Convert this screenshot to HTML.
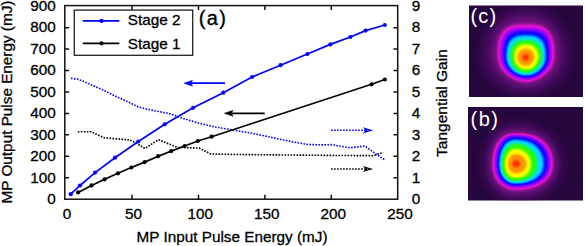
<!DOCTYPE html><html><head><meta charset="utf-8"><style>
html,body{margin:0;padding:0;background:#fff;width:585px;height:246px;overflow:hidden}
svg{display:block}
text{font-family:"Liberation Sans", sans-serif;fill:#000;stroke:#000;stroke-width:0.3px}
</style></head><body>
<svg width="585" height="246" viewBox="0 0 585 246">


<defs><filter id="cm" x="0" y="0" width="1" height="1" filterUnits="objectBoundingBox" color-interpolation-filters="sRGB"><feComponentTransfer><feFuncR type="table" tableValues="0.149 0.155 0.161 0.167 0.174 0.180 0.186 0.192 0.198 0.204 0.211 0.217 0.223 0.229 0.235 0.241 0.247 0.254 0.260 0.266 0.272 0.278 0.284 0.291 0.297 0.303 0.309 0.317 0.324 0.331 0.338 0.346 0.353 0.360 0.367 0.375 0.382 0.389 0.396 0.403 0.411 0.418 0.425 0.432 0.440 0.447 0.454 0.461 0.469 0.476 0.483 0.490 0.507 0.523 0.540 0.556 0.572 0.589 0.605 0.622 0.638 0.655 0.671 0.688 0.704 0.721 0.737 0.753 0.770 0.786 0.803 0.819 0.836 0.852 0.869 0.885 0.902 0.903 0.891 0.878 0.866 0.853 0.840 0.828 0.815 0.803 0.790 0.777 0.765 0.752 0.740 0.727 0.714 0.702 0.689 0.677 0.664 0.651 0.639 0.626 0.613 0.601 0.588 0.565 0.542 0.519 0.496 0.473 0.450 0.427 0.404 0.381 0.358 0.334 0.311 0.288 0.265 0.242 0.219 0.196 0.173 0.150 0.127 0.104 0.081 0.058 0.035 0.012 0.000 0.000 0.000 0.000 0.000 0.000 0.000 0.000 0.000 0.000 0.000 0.000 0.000 0.000 0.000 0.000 0.000 0.000 0.000 0.000 0.000 0.000 0.000 0.000 0.000 0.000 0.006 0.012 0.018 0.025 0.031 0.037 0.043 0.049 0.055 0.062 0.068 0.074 0.080 0.086 0.092 0.098 0.105 0.111 0.117 0.123 0.129 0.135 0.141 0.148 0.154 0.173 0.206 0.240 0.273 0.306 0.339 0.372 0.405 0.438 0.471 0.504 0.537 0.570 0.603 0.636 0.669 0.702 0.735 0.769 0.802 0.835 0.868 0.901 0.934 0.967 1.000 1.000 1.000 1.000 1.000 1.000 1.000 1.000 1.000 1.000 1.000 1.000 1.000 1.000 1.000 1.000 1.000 1.000 1.000 1.000 1.000 1.000 1.000 1.000 1.000 1.000 1.000 1.000 1.000 1.000 1.000 1.000 1.000 1.000 1.000 1.000 1.000 1.000 1.000 1.000 1.000 1.000 1.000 1.000 1.000 1.000 1.000 1.000 1.000 1.000 1.000 1.000"/><feFuncG type="table" tableValues="0.024 0.025 0.026 0.027 0.028 0.029 0.030 0.031 0.032 0.033 0.034 0.035 0.036 0.038 0.039 0.040 0.041 0.042 0.043 0.044 0.045 0.046 0.047 0.048 0.049 0.050 0.051 0.052 0.053 0.054 0.054 0.055 0.056 0.057 0.058 0.058 0.059 0.060 0.061 0.061 0.062 0.063 0.064 0.064 0.065 0.066 0.067 0.068 0.068 0.069 0.070 0.071 0.071 0.071 0.072 0.072 0.072 0.072 0.073 0.073 0.073 0.074 0.074 0.074 0.075 0.075 0.075 0.076 0.076 0.076 0.076 0.077 0.077 0.077 0.078 0.078 0.078 0.077 0.074 0.071 0.068 0.065 0.062 0.058 0.055 0.052 0.049 0.046 0.043 0.040 0.037 0.034 0.031 0.028 0.025 0.022 0.018 0.015 0.012 0.009 0.006 0.003 0.000 0.002 0.003 0.005 0.006 0.008 0.009 0.011 0.012 0.014 0.015 0.017 0.018 0.020 0.022 0.023 0.025 0.026 0.028 0.029 0.031 0.032 0.034 0.035 0.037 0.038 0.055 0.088 0.120 0.152 0.185 0.217 0.249 0.281 0.314 0.346 0.378 0.411 0.443 0.475 0.507 0.540 0.572 0.604 0.637 0.669 0.701 0.734 0.766 0.798 0.830 0.863 0.868 0.874 0.879 0.884 0.890 0.895 0.900 0.906 0.911 0.917 0.922 0.927 0.933 0.938 0.943 0.949 0.954 0.960 0.965 0.970 0.976 0.981 0.987 0.992 0.997 1.000 1.000 1.000 1.000 1.000 1.000 1.000 1.000 1.000 1.000 1.000 1.000 1.000 1.000 1.000 1.000 1.000 1.000 1.000 1.000 1.000 1.000 1.000 1.000 1.000 1.000 0.984 0.968 0.952 0.935 0.919 0.903 0.887 0.871 0.855 0.839 0.822 0.806 0.790 0.774 0.758 0.742 0.725 0.709 0.693 0.677 0.661 0.645 0.629 0.612 0.596 0.580 0.563 0.546 0.529 0.512 0.495 0.478 0.461 0.444 0.428 0.411 0.394 0.377 0.360 0.343 0.326 0.309 0.292 0.275 0.258 0.241 0.225 0.208 0.191 0.174 0.157"/><feFuncB type="table" tableValues="0.243 0.250 0.256 0.263 0.269 0.275 0.282 0.288 0.295 0.301 0.308 0.314 0.321 0.327 0.334 0.340 0.346 0.353 0.359 0.366 0.372 0.379 0.385 0.392 0.398 0.405 0.410 0.414 0.419 0.423 0.427 0.432 0.436 0.440 0.444 0.449 0.453 0.457 0.462 0.466 0.470 0.475 0.479 0.483 0.488 0.492 0.496 0.500 0.505 0.509 0.513 0.518 0.529 0.540 0.551 0.563 0.574 0.585 0.596 0.607 0.619 0.630 0.641 0.652 0.664 0.675 0.686 0.697 0.708 0.720 0.731 0.742 0.753 0.765 0.776 0.787 0.798 0.808 0.815 0.823 0.831 0.839 0.846 0.854 0.862 0.869 0.877 0.885 0.892 0.900 0.908 0.915 0.923 0.931 0.938 0.946 0.954 0.962 0.969 0.977 0.985 0.992 1.000 1.000 1.000 1.000 1.000 1.000 1.000 1.000 1.000 1.000 1.000 1.000 1.000 1.000 1.000 1.000 1.000 1.000 1.000 1.000 1.000 1.000 1.000 1.000 1.000 1.000 1.000 1.000 1.000 1.000 1.000 1.000 1.000 1.000 1.000 1.000 1.000 1.000 1.000 1.000 1.000 1.000 1.000 1.000 1.000 1.000 1.000 1.000 1.000 1.000 1.000 1.000 0.961 0.922 0.882 0.843 0.804 0.765 0.725 0.686 0.647 0.608 0.569 0.529 0.490 0.451 0.412 0.373 0.333 0.294 0.255 0.216 0.176 0.137 0.098 0.059 0.020 0.000 0.000 0.000 0.000 0.000 0.000 0.000 0.000 0.000 0.000 0.000 0.000 0.000 0.000 0.000 0.000 0.000 0.000 0.000 0.000 0.000 0.000 0.000 0.000 0.000 0.000 0.000 0.000 0.000 0.000 0.000 0.000 0.000 0.000 0.000 0.000 0.000 0.000 0.000 0.000 0.000 0.000 0.000 0.000 0.000 0.000 0.000 0.000 0.000 0.000 0.000 0.000 0.000 0.000 0.000 0.000 0.000 0.000 0.000 0.000 0.000 0.000 0.000 0.000 0.000 0.000 0.000 0.000 0.000 0.000 0.000 0.000 0.000 0.000 0.000 0.000 0.000"/></feComponentTransfer></filter><filter id="bl0_8" x="-100%" y="-100%" width="300%" height="300%" color-interpolation-filters="sRGB"><feGaussianBlur stdDeviation="0.8"/></filter><filter id="bl1_0" x="-100%" y="-100%" width="300%" height="300%" color-interpolation-filters="sRGB"><feGaussianBlur stdDeviation="1.0"/></filter><filter id="bl1_2" x="-100%" y="-100%" width="300%" height="300%" color-interpolation-filters="sRGB"><feGaussianBlur stdDeviation="1.2"/></filter><filter id="bl1_5" x="-100%" y="-100%" width="300%" height="300%" color-interpolation-filters="sRGB"><feGaussianBlur stdDeviation="1.5"/></filter><filter id="bl2_0" x="-100%" y="-100%" width="300%" height="300%" color-interpolation-filters="sRGB"><feGaussianBlur stdDeviation="2.0"/></filter><filter id="bl3_0" x="-100%" y="-100%" width="300%" height="300%" color-interpolation-filters="sRGB"><feGaussianBlur stdDeviation="3.0"/></filter><filter id="bl4_0" x="-100%" y="-100%" width="300%" height="300%" color-interpolation-filters="sRGB"><feGaussianBlur stdDeviation="4.0"/></filter><filter id="bl5_0" x="-100%" y="-100%" width="300%" height="300%" color-interpolation-filters="sRGB"><feGaussianBlur stdDeviation="5.0"/></filter><filter id="bl6_0" x="-100%" y="-100%" width="300%" height="300%" color-interpolation-filters="sRGB"><feGaussianBlur stdDeviation="6.0"/></filter><filter id="bl8_0" x="-100%" y="-100%" width="300%" height="300%" color-interpolation-filters="sRGB"><feGaussianBlur stdDeviation="8.0"/></filter></defs>
<g filter="url(#cm)"><rect x="469" y="5.5" width="114" height="91.5" fill="rgb(0,0,0)"/><svg x="469" y="5.5" width="114" height="91.5" viewBox="469 5.5 114 91.5" overflow="hidden"><path d="M568.80,57.00L568.71,59.35L568.43,61.70L567.97,64.02L567.33,66.32L566.52,68.57L565.53,70.78L564.37,72.92L563.04,75.00L561.55,77.00L559.91,78.92L558.13,80.74L556.21,82.46L554.15,84.07L551.98,85.56L549.69,86.93L547.30,88.18L544.82,89.29L542.26,90.26L539.62,91.09L536.93,91.77L534.19,92.31L531.41,92.69L528.61,92.92L525.80,93.00L522.99,92.92L520.19,92.69L517.41,92.31L514.67,91.77L511.98,91.09L509.34,90.26L506.78,89.29L504.30,88.18L501.91,86.93L499.62,85.56L497.45,84.07L495.39,82.46L493.47,80.74L491.69,78.92L490.05,77.00L488.56,75.00L487.23,72.92L486.07,70.78L485.08,68.57L484.27,66.32L483.63,64.02L483.17,61.70L482.89,59.35L482.80,57.00L482.89,53.43L483.15,50.10L483.59,46.88L484.20,43.75L484.98,40.71L485.92,37.77L487.03,34.93L488.30,32.19L489.73,29.58L491.31,27.08L493.03,24.72L494.89,22.49L496.88,20.42L499.00,18.50L501.23,16.74L503.58,15.15L506.03,13.73L508.57,12.49L511.21,11.43L513.93,10.56L516.73,9.88L519.62,9.39L522.60,9.10L525.80,9.00L529.00,9.10L531.98,9.39L534.87,9.88L537.67,10.56L540.39,11.43L543.03,12.49L545.57,13.73L548.02,15.15L550.37,16.74L552.60,18.50L554.72,20.42L556.71,22.49L558.57,24.72L560.29,27.08L561.87,29.58L563.30,32.19L564.57,34.93L565.68,37.77L566.62,40.71L567.40,43.75L568.01,46.88L568.45,50.10L568.71,53.43Z" fill="rgb(26,26,26)" filter="url(#bl6_0)"/><path d="M558.80,57.00L558.72,58.38L558.49,59.97L558.10,61.65L557.55,63.36L556.86,65.09L556.02,66.82L555.04,68.54L553.93,70.22L552.68,71.86L551.32,73.45L549.84,74.98L548.25,76.43L546.57,77.80L544.81,79.08L542.97,80.26L541.08,81.34L539.13,82.31L537.15,83.15L535.15,83.88L533.15,84.48L531.17,84.95L529.24,85.29L527.39,85.49L525.80,85.56L524.23,85.49L522.42,85.29L520.52,84.95L518.57,84.48L516.61,83.88L514.64,83.15L512.70,82.31L510.78,81.34L508.92,80.26L507.11,79.08L505.38,77.80L503.73,76.43L502.17,74.98L500.72,73.45L499.37,71.86L498.15,70.22L497.06,68.54L496.09,66.82L495.27,65.09L494.59,63.36L494.05,61.65L493.67,59.97L493.44,58.38L493.36,57.00L493.41,52.43L493.57,49.23L493.84,46.42L494.21,43.85L494.69,41.46L495.28,39.23L495.97,37.14L496.76,35.17L497.65,33.33L498.65,31.61L499.75,30.00L500.95,28.51L502.25,27.13L503.66,25.87L505.16,24.72L506.77,23.70L508.48,22.79L510.31,22.00L512.25,21.33L514.33,20.78L516.57,20.35L519.03,20.05L521.82,19.86L525.80,19.80L529.85,19.86L532.69,20.05L535.19,20.35L537.47,20.78L539.58,21.33L541.56,22.00L543.42,22.79L545.16,23.70L546.80,24.72L548.33,25.87L549.75,27.13L551.08,28.51L552.30,30.00L553.42,31.61L554.43,33.33L555.34,35.17L556.15,37.14L556.85,39.23L557.44,41.46L557.93,43.85L558.31,46.42L558.58,49.23L558.75,52.43Z" fill="rgb(51,51,51)" filter="url(#bl3_0)"/><path d="M554.50,57.00L554.43,58.32L554.23,59.79L553.90,61.31L553.44,62.85L552.86,64.39L552.15,65.92L551.31,67.43L550.37,68.91L549.31,70.35L548.15,71.74L546.88,73.06L545.53,74.33L544.09,75.51L542.58,76.62L541.00,77.64L539.37,78.57L537.68,79.40L535.96,80.13L534.21,80.76L532.46,81.27L530.70,81.68L528.98,81.97L527.30,82.14L525.80,82.20L524.30,82.14L522.64,81.97L520.92,81.68L519.18,81.27L517.43,80.76L515.69,80.13L513.98,79.40L512.31,78.57L510.68,77.64L509.11,76.62L507.60,75.51L506.17,74.33L504.83,73.06L503.57,71.74L502.41,70.35L501.36,68.91L500.42,67.43L499.59,65.92L498.88,64.39L498.30,62.85L497.84,61.31L497.51,59.79L497.32,58.32L497.25,57.00L497.29,51.67L497.41,48.55L497.62,45.95L497.90,43.66L498.27,41.59L498.72,39.68L499.25,37.93L499.86,36.31L500.56,34.80L501.33,33.40L502.19,32.11L503.14,30.93L504.17,29.84L505.29,28.85L506.51,27.95L507.81,27.15L509.23,26.45L510.75,25.84L512.40,25.32L514.21,24.90L516.20,24.57L518.45,24.34L521.17,24.20L525.80,24.15L530.46,24.20L533.18,24.34L535.45,24.57L537.46,24.90L539.27,25.32L540.93,25.84L542.46,26.45L543.88,27.15L545.20,27.95L546.41,28.85L547.54,29.84L548.58,30.93L549.53,32.11L550.40,33.40L551.18,34.80L551.88,36.31L552.49,37.93L553.02,39.68L553.48,41.59L553.84,43.66L554.13,45.95L554.34,48.55L554.46,51.67Z" fill="rgb(76,76,76)" filter="url(#bl1_5)"/><path d="M551.70,57.00L551.64,58.29L551.47,59.67L551.18,61.08L550.77,62.50L550.26,63.90L549.63,65.30L548.90,66.66L548.06,67.99L547.13,69.28L546.10,70.52L544.98,71.71L543.78,72.83L542.51,73.89L541.16,74.87L539.75,75.77L538.29,76.60L536.77,77.33L535.22,77.98L533.64,78.53L532.04,78.98L530.44,79.34L528.84,79.59L527.27,79.75L525.80,79.80L524.35,79.75L522.80,79.59L521.23,79.34L519.64,78.98L518.06,78.53L516.50,77.98L514.97,77.33L513.48,76.60L512.04,75.77L510.65,74.87L509.32,73.89L508.06,72.83L506.88,71.71L505.78,70.52L504.76,69.28L503.84,67.99L503.02,66.66L502.29,65.30L501.68,63.90L501.17,62.50L500.77,61.08L500.48,59.67L500.31,58.29L500.25,57.00L500.28,51.62L500.39,48.71L500.56,46.34L500.80,44.28L501.11,42.44L501.48,40.76L501.93,39.22L502.45,37.81L503.03,36.50L503.69,35.29L504.42,34.18L505.23,33.16L506.11,32.23L507.06,31.39L508.10,30.62L509.23,29.94L510.46,29.35L511.78,28.83L513.23,28.39L514.82,28.03L516.60,27.76L518.64,27.56L521.15,27.44L525.80,27.40L530.51,27.44L533.05,27.56L535.13,27.76L536.93,28.03L538.54,28.39L540.01,28.83L541.35,29.35L542.59,29.94L543.74,30.62L544.79,31.39L545.76,32.23L546.66,33.16L547.47,34.18L548.21,35.29L548.88,36.50L549.47,37.81L550.00,39.22L550.45,40.76L550.83,42.44L551.14,44.28L551.39,46.34L551.56,48.71L551.67,51.62Z" fill="rgb(102,102,102)" filter="url(#bl1_5)"/><path d="M548.95,57.00L548.90,58.19L548.74,59.46L548.48,60.75L548.12,62.05L547.66,63.34L547.10,64.62L546.44,65.88L545.70,67.10L544.86,68.28L543.94,69.42L542.95,70.51L541.87,71.55L540.73,72.52L539.53,73.42L538.27,74.25L536.96,75.01L535.61,75.68L534.22,76.27L532.81,76.78L531.38,77.20L529.94,77.53L528.51,77.76L527.11,77.90L525.80,77.95L524.54,77.90L523.19,77.76L521.81,77.53L520.42,77.20L519.05,76.78L517.69,76.27L516.35,75.68L515.05,75.01L513.79,74.25L512.57,73.42L511.42,72.52L510.32,71.55L509.28,70.51L508.32,69.42L507.44,68.28L506.63,67.10L505.91,65.88L505.28,64.62L504.74,63.34L504.30,62.05L503.95,60.75L503.70,59.46L503.55,58.19L503.50,57.00L503.53,52.53L503.62,50.02L503.78,47.96L503.99,46.15L504.27,44.52L504.61,43.04L505.01,41.67L505.48,40.41L506.00,39.24L506.59,38.16L507.25,37.16L507.97,36.25L508.75,35.41L509.61,34.65L510.54,33.96L511.54,33.35L512.63,32.81L513.80,32.34L515.08,31.95L516.48,31.62L518.03,31.37L519.81,31.19L521.96,31.09L525.80,31.05L529.78,31.09L532.02,31.19L533.87,31.37L535.48,31.62L536.93,31.95L538.26,32.34L539.48,32.81L540.60,33.35L541.64,33.96L542.61,34.65L543.49,35.41L544.31,36.25L545.06,37.16L545.74,38.16L546.35,39.24L546.90,40.41L547.38,41.67L547.80,43.04L548.15,44.52L548.44,46.15L548.66,47.96L548.82,50.02L548.92,52.53Z" fill="rgb(128,128,128)" filter="url(#bl1_5)"/><path d="M545.55,57.00L545.51,58.21L545.38,59.41L545.17,60.61L544.88,61.79L544.50,62.95L544.05,64.08L543.51,65.18L542.90,66.25L542.22,67.28L541.47,68.26L540.65,69.20L539.77,70.08L538.82,70.91L537.82,71.68L536.77,72.38L535.67,73.02L534.54,73.59L533.36,74.09L532.15,74.52L530.91,74.87L529.65,75.14L528.38,75.34L527.09,75.46L525.80,75.50L524.54,75.46L523.28,75.34L522.03,75.14L520.80,74.87L519.60,74.52L518.41,74.09L517.26,73.59L516.15,73.02L515.08,72.38L514.05,71.68L513.07,70.91L512.15,70.08L511.29,69.20L510.49,68.26L509.75,67.28L509.09,66.25L508.49,65.18L507.97,64.08L507.52,62.95L507.16,61.79L506.87,60.61L506.67,59.41L506.54,58.21L506.50,57.00L506.53,53.94L506.62,51.99L506.77,50.32L506.97,48.83L507.24,47.46L507.56,46.20L507.94,45.02L508.38,43.93L508.88,42.90L509.44,41.95L510.06,41.07L510.73,40.25L511.47,39.50L512.26,38.82L513.12,38.20L514.04,37.64L515.02,37.15L516.08,36.73L517.22,36.37L518.45,36.07L519.79,35.85L521.29,35.68L523.05,35.58L525.80,35.55L528.62,35.58L530.41,35.68L531.95,35.85L533.32,36.07L534.58,36.37L535.74,36.73L536.83,37.15L537.84,37.64L538.78,38.20L539.65,38.82L540.47,39.50L541.22,40.25L541.91,41.07L542.54,41.95L543.11,42.90L543.62,43.93L544.07,45.02L544.46,46.20L544.80,47.46L545.07,48.83L545.28,50.32L545.43,51.99L545.52,53.94Z" fill="rgb(153,153,153)" filter="url(#bl1_2)"/><path d="M542.05,57.00L542.02,58.03L541.91,59.06L541.74,60.07L541.50,61.08L541.19,62.06L540.81,63.03L540.37,63.97L539.87,64.88L539.31,65.75L538.69,66.59L538.02,67.38L537.29,68.14L536.51,68.84L535.69,69.50L534.83,70.10L533.92,70.64L532.99,71.13L532.02,71.55L531.02,71.91L530.01,72.21L528.97,72.45L527.92,72.62L526.86,72.72L525.80,72.75L524.78,72.72L523.77,72.62L522.77,72.45L521.78,72.21L520.80,71.91L519.85,71.55L518.92,71.13L518.02,70.64L517.16,70.10L516.33,69.50L515.55,68.84L514.80,68.14L514.11,67.38L513.46,66.59L512.87,65.75L512.33,64.88L511.85,63.97L511.43,63.03L511.08,62.06L510.78,61.08L510.55,60.07L510.38,59.06L510.28,58.03L510.25,57.00L510.28,55.09L510.36,53.68L510.49,52.41L510.68,51.25L510.91,50.16L511.20,49.14L511.55,48.17L511.94,47.26L512.38,46.41L512.88,45.60L513.42,44.85L514.02,44.15L514.66,43.51L515.35,42.92L516.08,42.38L516.87,41.89L517.70,41.46L518.59,41.09L519.53,40.77L520.53,40.51L521.59,40.31L522.75,40.17L524.05,40.08L525.80,40.05L527.63,40.08L528.99,40.17L530.20,40.31L531.31,40.51L532.35,40.77L533.34,41.09L534.26,41.46L535.13,41.89L535.95,42.38L536.72,42.92L537.45,43.51L538.12,44.15L538.73,44.85L539.30,45.60L539.82,46.41L540.28,47.26L540.69,48.17L541.05,49.14L541.36,50.16L541.61,51.25L541.80,52.41L541.94,53.68L542.02,55.09Z" fill="rgb(178,178,178)" filter="url(#bl1_2)"/><path d="M538.20,57.00L538.17,57.83L538.09,58.66L537.96,59.48L537.78,60.29L537.54,61.08L537.26,61.86L536.92,62.62L536.54,63.35L536.11,64.06L535.64,64.73L535.12,65.37L534.57,65.98L533.98,66.55L533.35,67.08L532.69,67.56L532.00,68.00L531.28,68.39L530.55,68.73L529.79,69.03L529.01,69.27L528.22,69.46L527.42,69.59L526.61,69.67L525.80,69.70L525.03,69.67L524.26,69.59L523.50,69.46L522.75,69.27L522.01,69.03L521.28,68.73L520.58,68.39L519.90,68.00L519.24,67.56L518.62,67.08L518.02,66.55L517.46,65.98L516.93,65.37L516.44,64.73L515.99,64.06L515.58,63.35L515.22,62.62L514.90,61.86L514.63,61.08L514.40,60.29L514.23,59.48L514.10,58.66L514.03,57.83L514.00,57.00L514.02,55.80L514.09,54.81L514.20,53.90L514.35,53.03L514.55,52.21L514.79,51.43L515.07,50.68L515.39,49.97L515.75,49.29L516.15,48.65L516.59,48.05L517.07,47.49L517.59,46.97L518.14,46.49L518.72,46.06L519.34,45.66L520.00,45.31L520.68,45.00L521.40,44.75L522.16,44.53L522.95,44.36L523.79,44.25L524.70,44.17L525.80,44.15L526.96,44.17L527.91,44.25L528.79,44.36L529.63,44.53L530.42,44.75L531.18,45.00L531.90,45.31L532.59,45.66L533.24,46.06L533.85,46.49L534.43,46.97L534.97,47.49L535.48,48.05L535.94,48.65L536.36,49.29L536.74,49.97L537.08,50.68L537.38,51.43L537.63,52.21L537.83,53.03L537.99,53.90L538.11,54.81L538.18,55.80Z" fill="rgb(204,204,204)" filter="url(#bl1_2)"/><path d="M534.15,57.00L534.13,57.58L534.08,58.16L533.99,58.74L533.87,59.30L533.71,59.86L533.51,60.41L533.29,60.94L533.03,61.45L532.74,61.94L532.42,62.42L532.08,62.87L531.70,63.29L531.31,63.69L530.88,64.06L530.44,64.40L529.97,64.71L529.49,64.98L529.00,65.22L528.48,65.43L527.96,65.60L527.43,65.73L526.89,65.82L526.35,65.88L525.80,65.90L525.24,65.88L524.68,65.82L524.13,65.73L523.59,65.60L523.05,65.43L522.53,65.22L522.02,64.98L521.52,64.71L521.05,64.40L520.60,64.06L520.16,63.69L519.75,63.29L519.37,62.87L519.02,62.42L518.69,61.94L518.40,61.45L518.13,60.94L517.90,60.41L517.70,59.86L517.54,59.30L517.41,58.74L517.32,58.16L517.27,57.58L517.25,57.00L517.27,56.39L517.32,55.83L517.41,55.28L517.53,54.75L517.68,54.23L517.87,53.74L518.09,53.25L518.34,52.79L518.63,52.34L518.94,51.92L519.28,51.52L519.65,51.14L520.05,50.79L520.47,50.46L520.92,50.16L521.38,49.89L521.87,49.65L522.37,49.44L522.90,49.26L523.44,49.11L524.00,49.00L524.57,48.92L525.16,48.87L525.80,48.85L526.42,48.87L527.00,48.92L527.56,49.00L528.10,49.11L528.63,49.26L529.14,49.44L529.64,49.65L530.12,49.89L530.57,50.16L531.00,50.46L531.42,50.79L531.80,51.14L532.16,51.52L532.50,51.92L532.80,52.34L533.08,52.79L533.33,53.25L533.54,53.74L533.73,54.23L533.88,54.75L534.00,55.28L534.08,55.83L534.13,56.39Z" fill="rgb(230,230,230)" filter="url(#bl1_2)"/><path d="M528.95,57.00L528.94,57.23L528.92,57.45L528.89,57.67L528.84,57.89L528.78,58.11L528.71,58.32L528.63,58.53L528.53,58.73L528.42,58.92L528.30,59.10L528.17,59.27L528.03,59.44L527.88,59.59L527.72,59.74L527.55,59.87L527.38,59.99L527.19,60.09L527.01,60.19L526.81,60.27L526.62,60.33L526.41,60.38L526.21,60.42L526.01,60.44L525.80,60.45L525.58,60.44L525.36,60.42L525.14,60.38L524.92,60.33L524.71,60.27L524.50,60.19L524.30,60.09L524.10,59.99L523.91,59.87L523.73,59.74L523.56,59.59L523.40,59.44L523.24,59.27L523.10,59.10L522.97,58.92L522.86,58.73L522.75,58.53L522.66,58.32L522.58,58.11L522.52,57.89L522.47,57.67L522.43,57.45L522.41,57.23L522.40,57.00L522.41,56.82L522.43,56.64L522.47,56.46L522.52,56.29L522.58,56.12L522.66,55.95L522.75,55.78L522.86,55.62L522.97,55.47L523.10,55.33L523.24,55.19L523.40,55.06L523.56,54.93L523.73,54.82L523.91,54.71L524.10,54.62L524.30,54.53L524.50,54.46L524.71,54.40L524.92,54.34L525.14,54.30L525.36,54.27L525.58,54.26L525.80,54.25L526.01,54.26L526.21,54.27L526.41,54.30L526.62,54.34L526.81,54.40L527.01,54.46L527.19,54.53L527.38,54.62L527.55,54.71L527.72,54.82L527.88,54.93L528.03,55.06L528.17,55.19L528.30,55.33L528.42,55.47L528.53,55.62L528.63,55.78L528.71,55.95L528.78,56.12L528.84,56.29L528.89,56.46L528.92,56.64L528.94,56.82Z" fill="rgb(255,255,255)" filter="url(#bl1_2)"/></svg></g>
<g filter="url(#cm)"><rect x="468" y="107" width="115" height="93.5" fill="rgb(0,0,0)"/><svg x="468" y="107" width="115" height="93.5" viewBox="468 107 115 93.5" overflow="hidden"><path d="M561.50,164.00L561.41,167.02L561.14,169.65L560.70,172.15L560.07,174.54L559.28,176.83L558.31,179.03L557.17,181.15L555.86,183.17L554.39,185.10L552.77,186.93L550.99,188.65L549.07,190.27L547.00,191.78L544.80,193.17L542.46,194.44L540.00,195.59L537.41,196.61L534.71,197.50L531.89,198.26L528.96,198.88L525.91,199.37L522.73,199.72L519.36,199.93L515.50,200.00L512.90,199.93L510.63,199.72L508.48,199.37L506.43,198.88L504.45,198.26L502.55,197.50L500.73,196.61L498.99,195.59L497.33,194.44L495.76,193.17L494.27,191.78L492.88,190.27L491.58,188.65L490.38,186.93L489.29,185.10L488.30,183.17L487.42,181.15L486.65,179.03L486.00,176.83L485.46,174.54L485.04,172.15L484.74,169.65L484.56,167.02L484.50,164.00L484.57,161.38L484.77,158.78L485.10,156.20L485.56,153.65L486.15,151.14L486.86,148.69L487.70,146.31L488.65,144.00L489.72,141.78L490.91,139.65L492.19,137.63L493.58,135.72L495.06,133.93L496.63,132.27L498.28,130.74L500.00,129.36L501.79,128.13L503.64,127.04L505.54,126.12L507.48,125.36L509.45,124.77L511.45,124.34L513.47,124.09L515.50,124.00L518.51,124.09L521.50,124.34L524.47,124.77L527.41,125.36L530.29,126.12L533.10,127.04L535.85,128.13L538.50,129.36L541.06,130.74L543.50,132.27L545.83,133.93L548.03,135.72L550.08,137.63L551.99,139.65L553.75,141.78L555.34,144.00L556.76,146.31L558.00,148.69L559.06,151.14L559.93,153.65L560.62,156.20L561.11,158.78L561.40,161.38Z" fill="rgb(26,26,26)" filter="url(#bl6_0)"/><path d="M555.90,164.00L555.82,166.48L555.59,168.65L555.19,170.70L554.65,172.66L553.95,174.55L553.09,176.36L552.09,178.10L550.95,179.76L549.66,181.35L548.23,182.85L546.67,184.27L544.98,185.60L543.17,186.84L541.23,187.98L539.18,189.03L537.01,189.97L534.74,190.81L532.37,191.54L529.90,192.17L527.32,192.68L524.64,193.08L521.85,193.37L518.89,193.54L515.50,193.60L513.36,193.54L511.49,193.37L509.71,193.08L508.02,192.68L506.39,192.17L504.83,191.54L503.32,190.81L501.89,189.97L500.52,189.03L499.22,187.98L498.00,186.84L496.85,185.60L495.78,184.27L494.79,182.85L493.89,181.35L493.07,179.76L492.35,178.10L491.72,176.36L491.18,174.55L490.73,172.66L490.39,170.70L490.14,168.65L489.99,166.48L489.94,164.00L489.99,160.85L490.13,158.25L490.37,155.85L490.70,153.58L491.12,151.42L491.64,149.36L492.25,147.39L492.95,145.52L493.73,143.75L494.60,142.07L495.55,140.50L496.59,139.02L497.71,137.66L498.90,136.40L500.17,135.25L501.51,134.21L502.93,133.29L504.41,132.49L505.97,131.80L507.61,131.24L509.33,130.80L511.15,130.49L513.11,130.30L515.50,130.24L519.27,130.30L522.38,130.49L525.25,130.80L527.97,131.24L530.56,131.80L533.02,132.49L535.37,133.29L537.61,134.21L539.73,135.25L541.74,136.40L543.62,137.66L545.39,139.02L547.03,140.50L548.53,142.07L549.91,143.75L551.15,145.52L552.25,147.39L553.21,149.36L554.03,151.42L554.70,153.58L555.22,155.85L555.60,158.25L555.82,160.85Z" fill="rgb(51,51,51)" filter="url(#bl3_0)"/><path d="M553.25,164.00L553.18,166.20L552.96,168.12L552.59,169.94L552.08,171.68L551.42,173.35L550.63,174.96L549.69,176.50L548.62,177.98L547.42,179.38L546.09,180.72L544.63,181.98L543.05,183.16L541.35,184.25L539.54,185.27L537.62,186.20L535.60,187.03L533.48,187.78L531.26,188.43L528.95,188.98L526.55,189.44L524.04,189.79L521.43,190.05L518.66,190.20L515.50,190.25L513.55,190.20L511.85,190.05L510.24,189.79L508.70,189.44L507.21,188.98L505.79,188.43L504.43,187.78L503.12,187.03L501.87,186.20L500.69,185.27L499.58,184.25L498.53,183.16L497.56,181.98L496.66,180.72L495.84,179.38L495.10,177.98L494.44,176.50L493.86,174.96L493.37,173.35L492.97,171.68L492.66,169.94L492.43,168.12L492.30,166.20L492.25,164.00L492.29,161.12L492.42,158.74L492.64,156.54L492.94,154.46L493.33,152.48L493.80,150.60L494.35,148.80L494.98,147.09L495.70,145.47L496.49,143.93L497.36,142.49L498.30,141.14L499.31,139.89L500.40,138.73L501.55,137.68L502.78,136.73L504.06,135.89L505.42,135.16L506.83,134.53L508.32,134.02L509.89,133.62L511.54,133.33L513.33,133.16L515.50,133.10L519.02,133.16L521.93,133.33L524.61,133.62L527.15,134.02L529.57,134.53L531.87,135.16L534.07,135.89L536.16,136.73L538.14,137.68L540.02,138.73L541.78,139.89L543.43,141.14L544.96,142.49L546.37,143.93L547.65,145.47L548.81,147.09L549.84,148.80L550.74,150.60L551.50,152.48L552.13,154.46L552.62,156.54L552.97,158.74L553.18,161.12Z" fill="rgb(76,76,76)" filter="url(#bl1_5)"/><path d="M550.75,164.00L550.68,165.99L550.48,167.73L550.13,169.38L549.66,170.95L549.05,172.46L548.30,173.92L547.43,175.31L546.43,176.65L545.31,177.92L544.06,179.13L542.70,180.26L541.22,181.33L539.64,182.33L537.95,183.24L536.16,184.08L534.27,184.84L532.29,185.51L530.22,186.10L528.06,186.60L525.82,187.01L523.48,187.33L521.04,187.57L518.45,187.70L515.50,187.75L513.75,187.70L512.23,187.57L510.78,187.33L509.40,187.01L508.07,186.60L506.79,186.10L505.57,185.51L504.40,184.84L503.28,184.08L502.22,183.24L501.22,182.33L500.28,181.33L499.41,180.26L498.61,179.13L497.87,177.92L497.21,176.65L496.61,175.31L496.10,173.92L495.66,172.46L495.30,170.95L495.01,169.38L494.81,167.73L494.69,165.99L494.65,164.00L494.69,161.29L494.81,159.06L495.00,157.00L495.27,155.05L495.62,153.19L496.04,151.42L496.53,149.73L497.10,148.13L497.74,146.60L498.45,145.17L499.23,143.81L500.08,142.55L500.99,141.37L501.96,140.29L502.99,139.30L504.09,138.41L505.24,137.62L506.46,136.93L507.73,136.34L509.06,135.86L510.47,135.49L511.95,135.22L513.55,135.05L515.50,135.00L518.79,135.05L521.50,135.22L524.01,135.49L526.38,135.86L528.64,136.34L530.79,136.93L532.84,137.62L534.79,138.41L536.64,139.30L538.39,140.29L540.04,141.37L541.58,142.55L543.01,143.81L544.32,145.17L545.52,146.60L546.61,148.13L547.57,149.73L548.40,151.42L549.12,153.19L549.70,155.05L550.16,157.00L550.49,159.06L550.68,161.29Z" fill="rgb(102,102,102)" filter="url(#bl1_5)"/><path d="M547.75,164.00L547.69,165.82L547.50,167.42L547.19,168.92L546.75,170.37L546.19,171.75L545.51,173.08L544.71,174.36L543.80,175.58L542.77,176.75L541.63,177.85L540.38,178.89L539.03,179.87L537.58,180.78L536.04,181.62L534.40,182.39L532.67,183.08L530.86,183.70L528.97,184.24L526.99,184.70L524.94,185.08L522.80,185.37L520.57,185.58L518.20,185.71L515.50,185.75L513.96,185.71L512.62,185.58L511.35,185.37L510.13,185.08L508.96,184.70L507.84,184.24L506.76,183.70L505.73,183.08L504.75,182.39L503.81,181.62L502.93,180.78L502.11,179.87L501.34,178.89L500.63,177.85L499.98,176.75L499.40,175.58L498.88,174.36L498.42,173.08L498.04,171.75L497.72,170.37L497.47,168.92L497.29,167.42L497.19,165.82L497.15,164.00L497.18,161.46L497.29,159.37L497.46,157.43L497.69,155.60L498.00,153.86L498.37,152.20L498.81,150.62L499.31,149.11L499.87,147.68L500.50,146.33L501.18,145.06L501.92,143.88L502.73,142.77L503.58,141.76L504.49,140.83L505.46,140.00L506.47,139.26L507.54,138.61L508.66,138.06L509.84,137.61L511.07,137.26L512.38,137.00L513.79,136.85L515.50,136.80L518.51,136.85L520.99,137.00L523.29,137.26L525.46,137.61L527.52,138.06L529.49,138.61L531.37,139.26L533.15,140.00L534.84,140.83L536.45,141.76L537.95,142.77L539.36,143.88L540.67,145.06L541.87,146.33L542.97,147.68L543.96,149.11L544.84,150.62L545.60,152.20L546.26,153.86L546.79,155.60L547.21,157.43L547.51,159.37L547.69,161.46Z" fill="rgb(128,128,128)" filter="url(#bl1_5)"/><path d="M543.25,164.00L543.20,165.63L543.03,167.06L542.76,168.41L542.39,169.71L541.91,170.95L541.32,172.14L540.64,173.29L539.85,174.38L538.96,175.43L537.98,176.42L536.91,177.35L535.75,178.23L534.50,179.05L533.17,179.80L531.76,180.49L530.28,181.11L528.72,181.66L527.09,182.15L525.39,182.56L523.62,182.90L521.78,183.16L519.86,183.35L517.83,183.46L515.50,183.50L514.15,183.46L512.96,183.35L511.84,183.16L510.77,182.90L509.74,182.56L508.76,182.15L507.81,181.66L506.90,181.11L506.04,180.49L505.21,179.80L504.44,179.05L503.71,178.23L503.04,177.35L502.41,176.42L501.84,175.43L501.33,174.38L500.87,173.29L500.47,172.14L500.13,170.95L499.85,169.71L499.63,168.41L499.48,167.06L499.38,165.63L499.35,164.00L499.38,161.97L499.48,160.19L499.63,158.51L499.85,156.90L500.13,155.36L500.47,153.87L500.87,152.45L501.33,151.09L501.84,149.79L502.41,148.56L503.04,147.39L503.71,146.30L504.44,145.29L505.21,144.35L506.04,143.50L506.90,142.72L507.81,142.03L508.76,141.43L509.74,140.92L510.77,140.50L511.84,140.17L512.96,139.94L514.15,139.80L515.50,139.75L517.83,139.80L519.86,139.94L521.78,140.17L523.62,140.50L525.39,140.92L527.09,141.43L528.72,142.03L530.28,142.72L531.76,143.50L533.17,144.35L534.50,145.29L535.75,146.30L536.91,147.39L537.98,148.56L538.96,149.79L539.85,151.09L540.64,152.45L541.32,153.87L541.91,155.36L542.39,156.90L542.76,158.51L543.03,160.19L543.20,161.97Z" fill="rgb(153,153,153)" filter="url(#bl1_2)"/><path d="M537.00,164.00L536.96,165.45L536.83,166.71L536.62,167.90L536.33,169.05L535.96,170.15L535.51,171.20L534.97,172.22L534.36,173.19L533.68,174.11L532.92,174.99L532.09,175.81L531.19,176.59L530.22,177.31L529.19,177.98L528.10,178.59L526.95,179.14L525.74,179.62L524.48,180.05L523.16,180.42L521.79,180.71L520.37,180.95L518.88,181.12L517.30,181.22L515.50,181.25L514.35,181.22L513.34,181.12L512.39,180.95L511.48,180.71L510.60,180.42L509.76,180.05L508.95,179.62L508.18,179.14L507.44,178.59L506.74,177.98L506.08,177.31L505.47,176.59L504.89,175.81L504.36,174.99L503.87,174.11L503.44,173.19L503.05,172.22L502.70,171.20L502.42,170.15L502.18,169.05L501.99,167.90L501.86,166.71L501.78,165.45L501.75,164.00L501.78,162.47L501.86,161.05L502.00,159.68L502.20,158.34L502.45,157.04L502.75,155.79L503.10,154.57L503.51,153.41L503.97,152.29L504.47,151.22L505.02,150.21L505.62,149.26L506.25,148.38L506.93,147.56L507.64,146.80L508.39,146.12L509.18,145.52L509.99,144.99L510.83,144.54L511.70,144.17L512.60,143.88L513.52,143.67L514.48,143.54L515.50,143.50L517.10,143.54L518.59,143.67L520.03,143.88L521.43,144.17L522.79,144.54L524.11,144.99L525.39,145.52L526.61,146.12L527.78,146.80L528.90,147.56L529.96,148.38L530.96,149.26L531.89,150.21L532.75,151.22L533.53,152.29L534.25,153.41L534.88,154.57L535.44,155.79L535.91,157.04L536.30,158.34L536.61,159.68L536.82,161.05L536.96,162.47Z" fill="rgb(178,178,178)" filter="url(#bl1_2)"/><path d="M531.00,164.00L530.97,165.17L530.88,166.20L530.73,167.17L530.52,168.10L530.25,168.99L529.92,169.85L529.54,170.67L529.10,171.46L528.61,172.20L528.06,172.92L527.46,173.59L526.81,174.22L526.11,174.80L525.37,175.34L524.58,175.84L523.75,176.28L522.88,176.68L521.97,177.03L521.02,177.32L520.04,177.57L519.01,177.76L517.93,177.89L516.80,177.97L515.50,178.00L514.60,177.97L513.81,177.89L513.07,177.76L512.35,177.57L511.67,177.32L511.01,177.03L510.38,176.68L509.78,176.28L509.20,175.84L508.65,175.34L508.14,174.80L507.66,174.22L507.21,173.59L506.79,172.92L506.41,172.20L506.07,171.46L505.76,170.67L505.50,169.85L505.27,168.99L505.08,168.10L504.94,167.17L504.83,166.20L504.77,165.17L504.75,164.00L504.77,163.00L504.84,162.01L504.96,161.02L505.12,160.05L505.32,159.10L505.57,158.16L505.86,157.26L506.19,156.38L506.56,155.53L506.97,154.72L507.42,153.94L507.90,153.22L508.41,152.53L508.96,151.90L509.53,151.32L510.12,150.79L510.75,150.32L511.39,149.91L512.04,149.56L512.72,149.27L513.40,149.04L514.10,148.88L514.80,148.78L515.50,148.75L516.51,148.78L517.52,148.88L518.52,149.04L519.51,149.27L520.48,149.56L521.43,149.91L522.36,150.32L523.25,150.79L524.11,151.32L524.94,151.90L525.72,152.53L526.46,153.22L527.15,153.94L527.80,154.72L528.39,155.53L528.92,156.38L529.40,157.26L529.82,158.16L530.18,159.10L530.47,160.05L530.70,161.02L530.87,162.01L530.97,163.00Z" fill="rgb(204,204,204)" filter="url(#bl1_2)"/><path d="M526.50,164.00L526.48,164.78L526.41,165.45L526.31,166.09L526.16,166.71L525.97,167.30L525.74,167.86L525.46,168.41L525.15,168.93L524.80,169.42L524.41,169.89L523.99,170.33L523.53,170.75L523.03,171.14L522.51,171.49L521.95,171.82L521.36,172.12L520.74,172.38L520.09,172.61L519.42,172.80L518.72,172.96L517.99,173.09L517.23,173.18L516.42,173.23L515.50,173.25L514.87,173.23L514.32,173.18L513.80,173.09L513.31,172.96L512.83,172.80L512.37,172.61L511.93,172.38L511.51,172.12L511.10,171.82L510.72,171.49L510.36,171.14L510.03,170.75L509.71,170.33L509.42,169.89L509.16,169.42L508.92,168.93L508.71,168.41L508.52,167.86L508.36,167.30L508.23,166.71L508.13,166.09L508.06,165.45L508.01,164.78L508.00,164.00L508.02,163.35L508.06,162.69L508.14,162.05L508.26,161.41L508.40,160.79L508.57,160.17L508.77,159.58L509.00,159.00L509.26,158.44L509.55,157.91L509.86,157.41L510.20,156.93L510.55,156.48L510.93,156.07L511.33,155.69L511.75,155.34L512.18,155.03L512.63,154.76L513.09,154.53L513.56,154.34L514.04,154.19L514.52,154.09L515.01,154.02L515.50,154.00L516.22,154.02L516.94,154.09L517.65,154.19L518.35,154.34L519.04,154.53L519.71,154.76L520.37,155.03L521.00,155.34L521.61,155.69L522.20,156.07L522.75,156.48L523.28,156.93L523.77,157.41L524.23,157.91L524.65,158.44L525.03,159.00L525.37,159.58L525.66,160.17L525.92,160.79L526.13,161.41L526.29,162.05L526.41,162.69L526.48,163.35Z" fill="rgb(230,230,230)" filter="url(#bl1_2)"/><path d="M520.00,164.00L519.99,164.21L519.96,164.42L519.91,164.63L519.85,164.84L519.76,165.04L519.66,165.24L519.54,165.44L519.40,165.62L519.24,165.81L519.07,165.98L518.88,166.14L518.68,166.30L518.47,166.44L518.24,166.58L518.00,166.70L517.75,166.81L517.49,166.91L517.22,167.00L516.95,167.08L516.66,167.14L516.38,167.19L516.09,167.22L515.79,167.24L515.50,167.25L515.30,167.24L515.11,167.22L514.91,167.19L514.72,167.14L514.54,167.08L514.35,167.00L514.17,166.91L514.00,166.81L513.83,166.70L513.67,166.58L513.52,166.44L513.38,166.30L513.24,166.14L513.12,165.98L513.01,165.81L512.90,165.62L512.81,165.44L512.73,165.24L512.66,165.04L512.60,164.84L512.56,164.63L512.53,164.42L512.51,164.21L512.50,164.00L512.51,163.74L512.53,163.48L512.56,163.22L512.60,162.96L512.66,162.71L512.73,162.47L512.81,162.23L512.90,162.00L513.01,161.78L513.12,161.56L513.24,161.36L513.38,161.17L513.52,160.99L513.67,160.83L513.83,160.67L514.00,160.54L514.17,160.41L514.35,160.30L514.54,160.21L514.72,160.14L514.91,160.08L515.11,160.03L515.30,160.01L515.50,160.00L515.79,160.01L516.09,160.03L516.38,160.08L516.66,160.14L516.95,160.21L517.22,160.30L517.49,160.41L517.75,160.54L518.00,160.67L518.24,160.83L518.47,160.99L518.68,161.17L518.88,161.36L519.07,161.56L519.24,161.78L519.40,162.00L519.54,162.23L519.66,162.47L519.76,162.71L519.85,162.96L519.91,163.22L519.96,163.48L519.99,163.74Z" fill="rgb(255,255,255)" filter="url(#bl1_2)"/></svg></g>
<text x="470.6" y="23.0" style="font-size:20px;fill:#fff;stroke:none;letter-spacing:1.1px">(c)</text>
<text x="470.6" y="125.8" style="font-size:20px;fill:#fff;stroke:none;letter-spacing:1.4px">(b)</text>
<rect x="64.8" y="5.6" width="332.9" height="193.6" fill="none" stroke="#111" stroke-width="1.5"/>
<path d="M132.0,199.15V194.8M132.0,5.6V9.9M198.5,199.15V194.8M198.5,5.6V9.9M264.9,199.15V194.8M264.9,5.6V9.9M331.3,199.15V194.8M331.3,5.6V9.9M64.8,177.7H69.1M397.7,177.7H393.4M64.8,156.2H69.1M397.7,156.2H393.4M64.8,134.8H69.1M397.7,134.8H393.4M64.8,113.4H69.1M397.7,113.4H393.4M64.8,92.0H69.1M397.7,92.0H393.4M64.8,70.5H69.1M397.7,70.5H393.4M64.8,49.1H69.1M397.7,49.1H393.4M64.8,27.7H69.1M397.7,27.7H393.4" stroke="#111" stroke-width="1.5" fill="none"/>
<text x="55.8" y="204.3" text-anchor="end" style="font-size:15.3px">0</text>
<text x="411.8" y="204.2" style="font-size:15.3px">0</text>
<text x="55.8" y="182.8" text-anchor="end" style="font-size:15.3px">100</text>
<text x="411.8" y="182.6" style="font-size:15.3px">1</text>
<text x="55.8" y="161.3" text-anchor="end" style="font-size:15.3px">200</text>
<text x="411.8" y="161.1" style="font-size:15.3px">2</text>
<text x="55.8" y="139.8" text-anchor="end" style="font-size:15.3px">300</text>
<text x="411.8" y="139.6" style="font-size:15.3px">3</text>
<text x="55.8" y="118.3" text-anchor="end" style="font-size:15.3px">400</text>
<text x="411.8" y="118.1" style="font-size:15.3px">4</text>
<text x="55.8" y="96.8" text-anchor="end" style="font-size:15.3px">500</text>
<text x="411.8" y="96.6" style="font-size:15.3px">5</text>
<text x="55.8" y="75.3" text-anchor="end" style="font-size:15.3px">600</text>
<text x="411.8" y="75.1" style="font-size:15.3px">6</text>
<text x="55.8" y="53.8" text-anchor="end" style="font-size:15.3px">700</text>
<text x="411.8" y="53.6" style="font-size:15.3px">7</text>
<text x="55.8" y="32.3" text-anchor="end" style="font-size:15.3px">800</text>
<text x="411.8" y="32.1" style="font-size:15.3px">8</text>
<text x="55.8" y="10.8" text-anchor="end" style="font-size:15.3px">900</text>
<text x="411.8" y="10.6" style="font-size:15.3px">9</text>
<text x="67.0" y="219.4" text-anchor="middle" style="font-size:15.3px">0</text>
<text x="133.6" y="219.4" text-anchor="middle" style="font-size:15.3px">50</text>
<text x="200.2" y="219.4" text-anchor="middle" style="font-size:15.3px">100</text>
<text x="266.7" y="219.4" text-anchor="middle" style="font-size:15.3px">150</text>
<text x="333.3" y="219.4" text-anchor="middle" style="font-size:15.3px">200</text>
<text x="399.9" y="219.4" text-anchor="middle" style="font-size:15.3px">250</text>
<text x="136.5" y="241.9" style="font-size:15.3px">MP Input Pulse Energy (mJ)</text>
<text transform="translate(12.0,102.0) rotate(-90)" text-anchor="middle" style="font-size:15.3px">MP Output Pulse Energy (mJ)</text>
<text transform="translate(446.8,103.1) rotate(-90)" text-anchor="middle" style="font-size:15.5px">Tangential Gain</text>
<polyline points="70.9,78.4 77.2,79.1 83.3,81.2 91.4,84.9 102.6,89.8 114.2,95.6 128.4,102.0 138.4,107.0 146.9,109.2 159.0,111.6 169.2,113.5 183.4,118.5 197.7,122.8 214.7,127.0 231.3,129.7 249.8,132.8 269.7,137.0 279.2,139.2 293.4,142.0 307.7,144.5 323.3,144.9 331.4,144.6 349.8,147.8 365.0,146.0 374.8,153.3 384.9,160.0" fill="none" stroke="#0000ff" stroke-width="1.6" stroke-dasharray="1.6 1.4"/>
<polyline points="77.8,131.8 91.3,131.8 104.1,137.8 129.7,139.9 135.7,142.8 144.9,148.5 158.4,139.7 177.6,147.5 183.5,147.5 199.2,148.1 210.6,153.9 234.7,154.5 330.0,155.4 372.9,155.7 383.3,152.4" fill="none" stroke="#000" stroke-width="1.6" stroke-dasharray="1.6 1.4"/>
<polyline points="70.7,194.2 80.0,185.5 95.1,172.6 115.0,157.7 138.3,141.5 164.8,124.3 193.1,107.8 223.3,92.7 252.1,77.0 280.5,65.2 307.4,54.0 330.4,44.4 350.4,37.0 365.6,30.6 384.8,25.0" fill="none" stroke="#0000ff" stroke-width="1.7"/>
<circle cx="70.7" cy="194.2" r="2.1" fill="#0000ff"/><circle cx="80.0" cy="185.5" r="2.1" fill="#0000ff"/><circle cx="95.1" cy="172.6" r="2.1" fill="#0000ff"/><circle cx="115" cy="157.7" r="2.1" fill="#0000ff"/><circle cx="138.3" cy="141.5" r="2.1" fill="#0000ff"/><circle cx="164.8" cy="124.3" r="2.1" fill="#0000ff"/><circle cx="193.1" cy="107.8" r="2.1" fill="#0000ff"/><circle cx="223.3" cy="92.7" r="2.1" fill="#0000ff"/><circle cx="252.1" cy="77" r="2.1" fill="#0000ff"/><circle cx="280.5" cy="65.2" r="2.1" fill="#0000ff"/><circle cx="307.4" cy="54" r="2.1" fill="#0000ff"/><circle cx="330.4" cy="44.4" r="2.1" fill="#0000ff"/><circle cx="350.4" cy="37" r="2.1" fill="#0000ff"/><circle cx="365.6" cy="30.6" r="2.1" fill="#0000ff"/><circle cx="384.8" cy="25" r="2.1" fill="#0000ff"/>
<polyline points="78.1,192.4 91.6,185.4 104.6,179.3 118.0,173.3 131.3,167.5 144.7,162.1 158.2,156.2 171.2,151.1 184.6,146.0 197.8,141.0 211.6,136.7 371.6,84.3 384.8,79.5" fill="none" stroke="#000" stroke-width="1.7"/>
<circle cx="78.1" cy="192.4" r="2.1" fill="#000"/><circle cx="91.6" cy="185.4" r="2.1" fill="#000"/><circle cx="104.6" cy="179.3" r="2.1" fill="#000"/><circle cx="118" cy="173.3" r="2.1" fill="#000"/><circle cx="131.3" cy="167.5" r="2.1" fill="#000"/><circle cx="144.7" cy="162.1" r="2.1" fill="#000"/><circle cx="158.2" cy="156.2" r="2.1" fill="#000"/><circle cx="171.2" cy="151.1" r="2.1" fill="#000"/><circle cx="184.6" cy="146" r="2.1" fill="#000"/><circle cx="197.8" cy="141" r="2.1" fill="#000"/><circle cx="211.6" cy="136.7" r="2.1" fill="#000"/><circle cx="371.6" cy="84.3" r="2.1" fill="#000"/><circle cx="384.8" cy="79.5" r="2.1" fill="#000"/>
<line x1="225" y1="83.2" x2="190.9" y2="83.2" stroke="#0000ff" stroke-width="1.7"/><path d="M184,83.2L192.6,80.2L190.9,83.2L192.6,86.2Z" fill="#0000ff" stroke="#0000ff" stroke-width="0.5" stroke-linejoin="round"/>
<line x1="264.8" y1="113.3" x2="231.3" y2="113.3" stroke="#000" stroke-width="1.7"/><path d="M224.4,113.3L233.0,110.3L231.3,113.3L233.0,116.3Z" fill="#000" stroke="#000" stroke-width="0.5" stroke-linejoin="round"/>
<line x1="331.1" y1="130.3" x2="366.20000000000005" y2="130.3" stroke="#0000ff" stroke-width="1.6" stroke-dasharray="1.6 1.4"/><path d="M371.0,130.3L364.90000000000003,128.5L366.6,130.3L364.90000000000003,132.10000000000002Z" fill="none" stroke="#0000ff" stroke-width="1.3" stroke-linejoin="miter"/>
<line x1="331.1" y1="169" x2="366.20000000000005" y2="169" stroke="#000" stroke-width="1.6" stroke-dasharray="1.6 1.4"/><path d="M371.0,169L364.90000000000003,167.2L366.6,169L364.90000000000003,170.8Z" fill="none" stroke="#000" stroke-width="1.3" stroke-linejoin="miter"/>
<rect x="74.3" y="10.1" width="118.4" height="45.2" fill="#fff" stroke="#222" stroke-width="1.3"/>
<line x1="82.8" y1="20.9" x2="119.4" y2="20.9" stroke="#0000ff" stroke-width="1.7"/><circle cx="101.5" cy="20.9" r="2.1" fill="#0000ff"/>
<line x1="82.8" y1="43.3" x2="119.4" y2="43.3" stroke="#000" stroke-width="1.7"/><circle cx="101.5" cy="43.3" r="2.1" fill="#000"/>
<text x="127.8" y="25.45" style="font-size:15.3px">Stage 2</text>
<text x="127.8" y="48.55" style="font-size:15.3px">Stage 1</text>
<text x="198.8" y="24.8" style="font-size:20px;letter-spacing:1.3px">(a)</text>
</svg></body></html>
